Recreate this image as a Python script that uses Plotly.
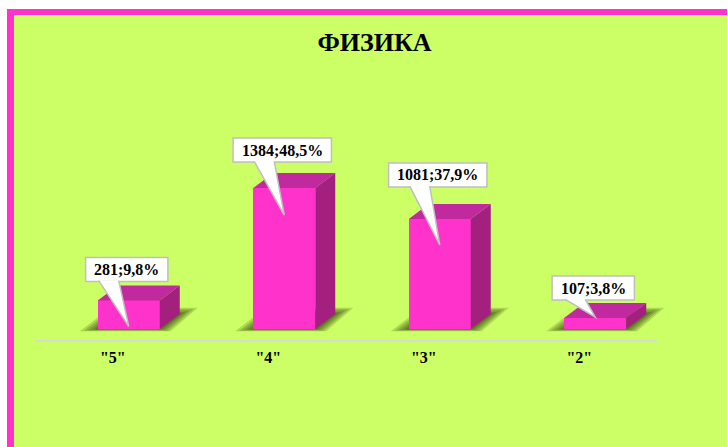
import plotly.graph_objects as go

# ---- data ----
categories = ['"5"', '"4"', '"3"', '"2"']
counts = [281, 1384, 1081, 107]
percents = [9.8, 48.5, 37.9, 3.8]
labels = [f"{c};{str(p).replace('.', ',')}%" for c, p in zip(counts, percents)]

# ---- geometry / style ----
W, H = 728, 447
ML, MR, MT, MB = 35, 71, 60, 107
PLOT_W, PLOT_H = W - ML - MR, H - MT - MB
PX_PER_CAT = PLOT_W / len(categories)
VALUE_PER_PX = 9.823          # value units per vertical pixel
BASE_PX_ABOVE_AXIS = 11       # bar floor sits a little above the axis line
Y_MIN = -BASE_PX_ABOVE_AXIS * VALUE_PER_PX
Y_MAX = Y_MIN + PLOT_H * VALUE_PER_PX

FRONT = "#FF33CC"
TOP = "#C02A9E"
SIDE = "#A3207F"
GREEN = "#CCFF66"
BORDER = "#FF33CC"
FONT = "Liberation Serif"

BAR_SHIFT_PX = 16     # perspective shift of bars to the right of category centre
BAR_W_PX = 62
DEPTH_X_PX = 20
DEPTH_Y_PX = 15

callout_lift = [19, 26, 32, 18]   # px from bar top to callout box bottom
tip_drop = [26, 27, 26, -1]       # px from bar top down to pointer tip


def dx(px):
    return px / PX_PER_CAT


def dy(px):
    return px * VALUE_PER_PX


xc = [i + dx(BAR_SHIFT_PX) for i in range(len(categories))]
hw = dx(BAR_W_PX) / 2
ddx, ddy = dx(DEPTH_X_PX), dy(DEPTH_Y_PX)

fig = go.Figure()

# top faces
tx, ty = [], []
for c, v in zip(xc, counts):
    tx += [c - hw, c + hw, c + hw + ddx, c - hw + ddx, c - hw, None]
    ty += [v, v, v + ddy, v + ddy, v, None]
fig.add_trace(go.Scatter(x=tx, y=ty, fill="toself", fillcolor=TOP, mode="lines",
                         line=dict(width=0, color=TOP), hoverinfo="skip", showlegend=False))

# side faces
sx, sy = [], []
for c, v in zip(xc, counts):
    sx += [c + hw, c + hw, c + hw + ddx, c + hw + ddx, c + hw, None]
    sy += [0, v, v + ddy, ddy, 0, None]
fig.add_trace(go.Scatter(x=sx, y=sy, fill="toself", fillcolor=SIDE, mode="lines",
                         line=dict(width=0, color=SIDE), hoverinfo="skip", showlegend=False))

# front faces
fig.add_trace(go.Bar(x=xc, y=counts, width=dx(BAR_W_PX), base=0,
                     marker=dict(color=FRONT, line=dict(width=0)),
                     hoverinfo="skip", showlegend=False))

shapes = []


def px_paper_x(px):
    return (px - ML) / PLOT_W


def px_paper_y(py):
    return (H - MB - py) / PLOT_H


# page frame: white margin, magenta border on top and left
shapes.append(dict(type="rect", xref="paper", yref="paper", layer="below",
                   x0=px_paper_x(0), x1=px_paper_x(W), y0=px_paper_y(0), y1=px_paper_y(9),
                   fillcolor="white", line=dict(width=0)))
shapes.append(dict(type="rect", xref="paper", yref="paper", layer="below",
                   x0=px_paper_x(0), x1=px_paper_x(7), y0=px_paper_y(0), y1=px_paper_y(H),
                   fillcolor="white", line=dict(width=0)))
shapes.append(dict(type="rect", xref="paper", yref="paper", layer="below",
                   x0=px_paper_x(727), x1=px_paper_x(W), y0=px_paper_y(0), y1=px_paper_y(H),
                   fillcolor="white", line=dict(width=0)))
shapes.append(dict(type="rect", xref="paper", yref="paper", layer="below",
                   x0=px_paper_x(7), x1=px_paper_x(727), y0=px_paper_y(9), y1=px_paper_y(15),
                   fillcolor=BORDER, line=dict(width=0)))
shapes.append(dict(type="rect", xref="paper", yref="paper", layer="below",
                   x0=px_paper_x(7), x1=px_paper_x(14), y0=px_paper_y(9), y1=px_paper_y(H),
                   fillcolor=BORDER, line=dict(width=0)))

# soft floor shadows: stacked, progressively enlarged footprints of each bar
hw_px = BAR_W_PX / 2
for c in xc:
    paper_c = (c + 0.5) / len(categories)
    for e in (18, 14, 10, 6, 3):
        pts = [(-hw_px - e, -e * 0.12),
               (hw_px + e * 0.6, -e * 0.12),
               (hw_px + DEPTH_X_PX + e, DEPTH_Y_PX + e * 0.35),
               (-hw_px + DEPTH_X_PX - e * 0.4, DEPTH_Y_PX + e * 0.35)]
        path = "M " + " L ".join(f"{px:.1f},{py:.1f}" for px, py in pts) + " Z"
        shapes.append(dict(type="path", xref="paper", yref="y", layer="below",
                           xsizemode="pixel", ysizemode="pixel",
                           xanchor=paper_c, yanchor=0, path=path,
                           fillcolor="rgba(35,50,0,0.19)", line=dict(width=0)))


def text_width(s, size):
    w = 0
    for ch in s:
        if ch.isdigit():
            w += 0.5
        elif ch == ";":
            w += 0.333
        elif ch == ",":
            w += 0.25
        elif ch == "%":
            w += 1.0
        else:
            w += 0.5
    return w * size


LABEL_SIZE = 16
BOX_H = 24
annotations = []
for c, v, lab, lift, drop in zip(xc, counts, labels, callout_lift, tip_drop):
    bw = text_width(lab, LABEL_SIZE) + 17
    cx = -2
    common = dict(xref="x", yref="y", xsizemode="pixel", ysizemode="pixel",
                  xanchor=c, yanchor=v)
    shapes.append(dict(type="rect", **common, x0=cx - bw / 2, x1=cx + bw / 2,
                       y0=lift, y1=lift + BOX_H, fillcolor="white",
                       line=dict(color="#BFBFBF", width=1.5)))
    b0, b1 = cx - 28, cx - 8
    path_fill = f"M {b0},{lift + 1} L 0,{-drop} L {b1},{lift + 1} Z"
    path_edge = f"M {b0},{lift + 0.8} L 0,{-drop} L {b1},{lift + 0.8}"
    shapes.append(dict(type="path", **common, path=path_fill,
                       fillcolor="white", line=dict(width=0)))
    shapes.append(dict(type="path", **common, path=path_edge,
                       line=dict(color="#BFBFBF", width=1.5)))
    annotations.append(dict(x=c, y=v, xref="x", yref="y", text=f"<b>{lab}</b>",
                            showarrow=False, xshift=cx, yshift=lift + BOX_H / 2,
                            xanchor="center", yanchor="middle",
                            font=dict(family=FONT, size=LABEL_SIZE, color="black")))

fig.update_layout(
    width=W, height=H,
    margin=dict(l=ML, r=MR, t=MT, b=MB, pad=0),
    paper_bgcolor=GREEN,
    plot_bgcolor="rgba(0,0,0,0)",
    title=dict(text="<b>ФИЗИКА</b>", x=374.5 / W, xanchor="center",
               y=1 - 42 / H, yanchor="middle", yref="container",
               font=dict(family=FONT, size=26, color="black")),
    xaxis=dict(range=[-0.5, len(categories) - 0.5], tickvals=list(range(len(categories))),
               ticktext=[f"<b>{t}</b>" for t in categories], showgrid=False,
               zeroline=False, showline=True, linecolor="#D9D9D9", linewidth=2,
               ticks="", ticklabelstandoff=2,
               tickfont=dict(family=FONT, size=16, color="black"), fixedrange=True),
    yaxis=dict(range=[Y_MIN, Y_MAX], visible=False, fixedrange=True),
    shapes=shapes,
    annotations=annotations,
    bargap=0,
)

fig.write_html("out.html")
